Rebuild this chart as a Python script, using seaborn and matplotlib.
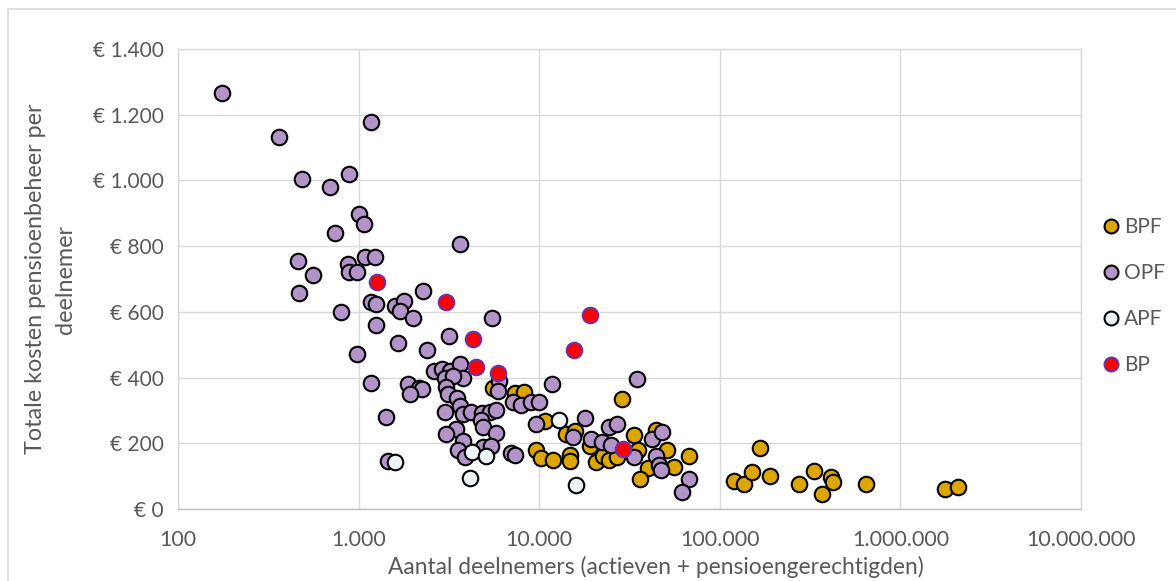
import matplotlib
matplotlib.use("Agg")
import matplotlib.pyplot as plt
import matplotlib.ticker as mticker
from matplotlib.lines import Line2D
from matplotlib.patches import Rectangle
import seaborn as sns
import pandas as pd

# Aantal deelnemers (x) en kosten per deelnemer (y) per type fonds
bpf_x = [5520, 7360, 8290, 10730, 14100, 15720, 28700, 33420, 44540, 19150,
         9580, 10170, 11920, 14750, 14890, 20740, 22460, 24460, 26850, 35080,
         51220, 40220, 55470, 36220, 67450, 166400, 119500, 136200, 151000, 190800,
         273600, 332600, 415000, 423600, 368300, 648500, 1774000, 2085000]
bpf_y = [367, 352, 355, 267, 228, 238, 336, 225, 241, 191,
         181, 155, 149, 164, 145, 143, 161, 149, 158, 179,
         181, 125, 127, 92, 160, 187, 85, 77, 113, 100,
         77, 115, 96, 81, 45, 75, 60, 67]

opf_x = [176, 1165, 361, 485, 694, 884, 1004, 1070, 739, 3660,
         459, 562, 469, 1086, 1239, 869, 889, 985, 2270, 1165,
         1253, 801, 1587, 1778, 1704, 1997, 1250, 5470, 3180, 1659,
         2394, 979, 2617, 2880, 3190, 3620, 3777, 2993, 3325, 5990,
         5900, 1165, 1879, 2163, 2245, 1915, 3055, 3120, 3508, 3666,
         2993, 3777, 4205, 4823, 5346, 5780, 4764, 4855, 3463, 3055,
         5780, 1423, 3765, 3545, 3862, 4889, 5420, 1456, 7000, 7377,
         7144, 7880, 9010, 9950, 11780, 9540, 15380, 17830, 19270, 22320,
         24880, 24390, 26940, 34760, 33470, 42080, 48080, 44540, 45860, 47230,
         67450, 61700]
opf_y = [1265, 1179, 1133, 1005, 981, 1019, 898, 866, 840, 807,
         755, 713, 656, 766, 768, 747, 722, 722, 664, 629,
         625, 599, 617, 633, 604, 580, 559, 581, 526, 504,
         485, 472, 421, 425, 420, 440, 399, 398, 406, 391,
         359, 383, 380, 368, 364, 349, 372, 350, 338, 315,
         295, 289, 294, 292, 296, 300, 272, 249, 243, 227,
         231, 281, 208, 181, 159, 190, 193, 147, 171, 165,
         325, 318, 325, 325, 379, 260, 220, 277, 214, 203,
         196, 249, 260, 396, 157, 212, 235, 162, 133, 118,
         91, 52]

apf_x = [1592, 4219, 5045, 4113, 12910, 15920]
apf_y = [144, 174, 162, 93, 271, 72]

bp_x = [1269, 3048, 19190, 4327, 15630, 4467, 5900, 28970]
bp_y = [692, 630, 591, 518, 484, 431, 415, 182]

series = ["BPF", "OPF", "APF", "BP"]
fills = {"BPF": "#DDA500", "OPF": "#B294C8", "APF": "#EEF3FA", "BP": "#FF0000"}
edges = {"BPF": "black", "OPF": "black", "APF": "black", "BP": "#7030A0"}

df = pd.concat([
    pd.DataFrame({"deelnemers": bpf_x, "kosten": bpf_y, "type": "BPF"}),
    pd.DataFrame({"deelnemers": opf_x, "kosten": opf_y, "type": "OPF"}),
    pd.DataFrame({"deelnemers": apf_x, "kosten": apf_y, "type": "APF"}),
    pd.DataFrame({"deelnemers": bp_x, "kosten": bp_y, "type": "BP"}),
])

sns.set_theme(style="white")
plt.rcParams["font.family"] = ["Lato", "DejaVu Sans"]
grey = "#595959"

fig = plt.figure(figsize=(11.76, 5.81), dpi=100)
ax = fig.add_axes([178 / 1176, 1 - 509 / 581, 903 / 1176, 460 / 581])

for s in series:
    sns.scatterplot(data=df[df["type"] == s], x="deelnemers", y="kosten",
                    color=fills[s], edgecolor=edges[s], linewidth=1.5,
                    s=125, ax=ax, legend=False, zorder=3)

ax.set_xscale("log")
ax.set_xlim(100, 10_000_000)
ax.set_ylim(0, 1400)
ax.set_yticks(range(0, 1401, 200))
ax.xaxis.set_major_locator(mticker.LogLocator(base=10, numticks=10))
ax.xaxis.set_minor_locator(mticker.NullLocator())
ax.xaxis.set_major_formatter(mticker.FuncFormatter(lambda v, p: f"{int(round(v)):,}".replace(",", ".")))
ax.yaxis.set_major_formatter(mticker.FuncFormatter(lambda v, p: f"€ {int(v):,}".replace(",", ".")))

ax.grid(True, color="#d9d9d9", linewidth=1.0)
ax.set_axisbelow(True)
for side in ["top", "right", "left"]:
    ax.spines[side].set_color("#d9d9d9")
ax.spines["bottom"].set_color("#bfbfbf")
for sp in ax.spines.values():
    sp.set_linewidth(1.0)

ax.tick_params(axis="y", length=0, labelsize=15, colors=grey, pad=10)
ax.tick_params(axis="x", length=0, labelsize=15.5, colors=grey, pad=15)

ax.set_xlabel("Aantal deelnemers (actieven + pensioengerechtigden)", fontsize=16.4, color=grey)
ax.set_ylabel("Totale kosten pensioenbeheer per\ndeelnemer", fontsize=16.8, color=grey,
              linespacing=1.55)
ax.xaxis.set_label_coords((656 - 178) / 903, -0.102)
ax.yaxis.set_label_coords((76 - 178) / 903, 0.5)

handles = [Line2D([], [], linestyle="none", marker="o", markersize=10,
                  markerfacecolor=fills[s], markeredgecolor=edges[s],
                  markeredgewidth=1.5, label=s) for s in series]
fig.legend(handles=handles, loc="center left", bbox_to_anchor=(1101 / 1176, 1 - 296 / 581),
           frameon=False, fontsize=15, labelcolor=grey, labelspacing=1.25,
           handletextpad=0.1, handlelength=1.0, borderaxespad=0, borderpad=0)

# rand van het grafiekgebied
fig.patches.append(Rectangle((8 / 1176, -0.1), 1.2, 1 - 9 / 581 + 0.1, transform=fig.transFigure,
                             fill=False, edgecolor="#d9d9d9", linewidth=1.2))

fig.savefig("out.png", dpi=100)
